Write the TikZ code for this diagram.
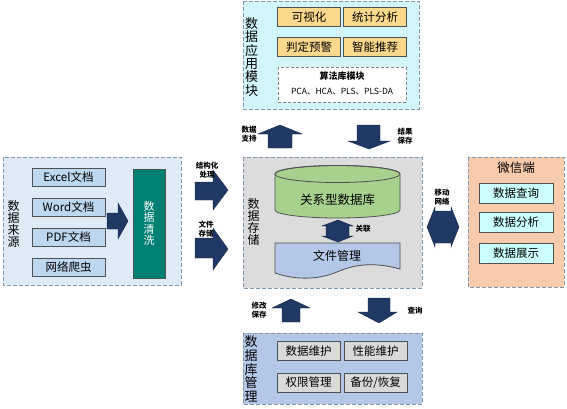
\documentclass[tikz,border=0pt]{standalone}
\usepackage{fontspec}
\setmainfont{Noto Sans CJK SC}
\usetikzlibrary{shapes.geometric, positioning, calc}

\definecolor{navyarr}{RGB}{31,56,100}
\definecolor{dashgray}{RGB}{128,150,170}
\definecolor{itemgray}{RGB}{80,80,80}
\definecolor{appfill}{RGB}{210,245,250}
\definecolor{btnyellow}{RGB}{250,217,140}
\definecolor{storefill}{RGB}{220,220,220}
\definecolor{dbgreen}{RGB}{169,209,142}
\definecolor{docblue}{RGB}{180,199,231}
\definecolor{srcfill}{RGB}{222,234,246}
\definecolor{srcitem}{RGB}{189,215,238}
\definecolor{cleanteal}{RGB}{0,128,115}
\definecolor{wxfill}{RGB}{248,203,173}
\definecolor{wxitem}{RGB}{204,255,255}
\definecolor{mgrfill}{RGB}{180,199,231}
\definecolor{mgritem}{RGB}{217,217,217}

\newcommand{\tightlines}{\lineskiplimit=-20pt\lineskip=0pt}

\begin{document}
\begin{tikzpicture}[x=1pt, y=-1pt,
    modbox/.style={draw=dashgray, dash pattern=on 4pt off 2pt, line width=0.8pt},
    itembox/.style={draw=itemgray, line width=0.9pt, minimum width=#1, minimum height=19pt,
        inner sep=0pt, font=\fontsize{11.5}{12}\selectfont},
    itembox/.default=63pt,
    vtitle/.style={align=center, inner sep=0pt},
    tiny/.style={align=center, inner sep=0pt, font=\bfseries\fontsize{7.5}{8.5}\selectfont\tightlines},
    blockarr/.style={fill=navyarr, draw=navyarr!70!black, line width=0.4pt}]
\useasboundingbox (0,0) rectangle (567,408);

% Application module
\draw[modbox, fill=appfill] (243,1) rectangle (419,109);
\node[vtitle, font=\fontsize{13}{13.3}\selectfont\tightlines] (apptitle) at (251.5,57) {数\\据\\应\\用\\模\\块};
\node[itembox, fill=btnyellow] (vis) at (309,17) {可视化};
\node[itembox, fill=btnyellow] (stat) at (375,17) {统计分析};
\node[itembox, fill=btnyellow] (warn) at (309,47) {判定预警};
\node[itembox, fill=btnyellow] (recom) at (375,47) {智能推荐};
\draw[draw=gray, dash pattern=on 3pt off 2pt, fill=white] (278,67) rectangle (406,102);
\node[inner sep=0pt, font=\bfseries\fontsize{9}{10}\selectfont] (algo) at (342,76) {算法库模块};
\node[inner sep=0pt, font=\fontsize{8.5}{9}\selectfont] (algolist) at (342,92) {PCA、HCA、PLS、PLS-DA};

% Arrows between application and storage
\fill[blockarr] (280,125) -- (302,134) -- (292,134) -- (292,148) -- (268,148) -- (268,134) -- (258,134) -- cycle;
\node[tiny] (support) at (249,134) {数据\\支持};
\fill[blockarr] (357,125) -- (380,125) -- (380,141) -- (390,141) -- (369,149) -- (348,141) -- (357,141) -- cycle;
\node[tiny] (save) at (405,136) {结果\\保存};

% Data sources
\draw[modbox, fill=srcfill] (3,157) rectangle (181,285);
\node[vtitle, font=\fontsize{12}{12.2}\selectfont\tightlines] (srctitle) at (13.5,224) {数\\据\\来\\源};
\node[itembox=73pt, fill=srcitem, minimum height=18pt] (excel) at (68.5,177.5) {Excel文档};
\node[itembox=73pt, fill=srcitem, minimum height=18pt] (word) at (68.5,207.5) {Word文档};
\node[itembox=73pt, fill=srcitem, minimum height=18pt] (pdf) at (68.5,237.5) {PDF文档};
\node[itembox=73pt, fill=srcitem, minimum height=18pt] (crawler) at (68.5,267.5) {网络爬虫};
\fill[blockarr] (107,213) -- (118,213) -- (118,203) -- (128,221) -- (118,239) -- (118,229) -- (107,229) -- cycle;
\node[draw=itemgray, line width=0.9pt, fill=cleanteal, minimum width=32pt, minimum height=109pt,
      inner sep=0pt, align=center, text=white, font=\fontsize{11}{11.5}\selectfont\tightlines] (clean) at (149,223.5) {数\\据\\清\\洗};

% Sources to storage
\fill[blockarr] (195,182) -- (213,182) -- (213,170) -- (228,190) -- (213,210) -- (213,200) -- (195,200) -- cycle;
\node[tiny] (struct) at (207,170) {结构化\\处理};
\fill[blockarr] (195,238) -- (213,238) -- (213,228) -- (228,249) -- (213,270) -- (213,258) -- (195,258) -- cycle;
\node[tiny] (filestore) at (206,229) {文件\\存储};

% Data storage
\draw[modbox, fill=storefill] (243,157) rectangle (422,288);
\node[vtitle, font=\fontsize{12}{12.2}\selectfont\tightlines] (storetitle) at (253.5,222) {数\\据\\存\\储};
\draw[draw=itemgray, line width=0.8pt, fill=dbgreen] (275,174) -- (275,210)
    arc[start angle=180, end angle=360, x radius=62.5pt, y radius=8pt] -- (400,174)
    arc[start angle=0, end angle=180, x radius=62.5pt, y radius=8.5pt] -- cycle;
\draw[draw=itemgray, line width=0.8pt] (337.5,174) ellipse [x radius=62.5pt, y radius=8.5pt];
\node[inner sep=0pt, font=\fontsize{12.5}{13}\selectfont] (rdb) at (337.5,200) {关系型数据库};
\fill[blockarr] (338,220) -- (353,226) -- (349,226) -- (349,236) -- (353,236) -- (338,242)
    -- (322,236) -- (326,236) -- (326,226) -- (322,226) -- cycle;
\node[tiny] (link) at (363,229) {关联};
\draw[draw=itemgray, line width=0.8pt, fill=docblue] (275,243) -- (400,243) -- (400,269)
    .. controls (375,262) and (355,264) .. (337,272)
    .. controls (318,280) and (295,280) .. (275,273) -- cycle;
\node[inner sep=0pt, font=\fontsize{12}{13}\selectfont] (files) at (337,256) {文件管理};

% Mobile network
\fill[blockarr] (427,227) -- (435,207) -- (435,211) -- (451,211) -- (451,207) -- (459,227)
    -- (451,247) -- (451,243) -- (435,243) -- (435,247) -- cycle;
\node[tiny] (mobile) at (442,197) {移动\\网络};

% WeChat client
\draw[modbox, fill=wxfill] (468,157) rectangle (564,287);
\node[inner sep=0pt, font=\fontsize{12.5}{13}\selectfont] (wxtitle) at (516,168) {微信端};
\node[itembox=74pt, fill=wxitem, minimum height=20pt] (query) at (516,193.5) {数据查询};
\node[itembox=74pt, fill=wxitem, minimum height=20pt] (analyse) at (516,222) {数据分析};
\node[itembox=74pt, fill=wxitem, minimum height=20pt] (show) at (516,253) {数据展示};

% Arrows between storage and management
\fill[blockarr] (291,299) -- (310,308) -- (300,308) -- (300,322) -- (282,322) -- (282,308) -- (272,308) -- cycle;
\node[tiny] (modify) at (259,310) {修改\\保存};
\fill[blockarr] (368,298) -- (390,298) -- (390,312) -- (397,312) -- (379,323) -- (358,312) -- (368,312) -- cycle;
\node[tiny] (lookup) at (415,311) {查询};

% Database management
\draw[modbox, fill=mgrfill] (243,333) rectangle (422,404);
\node[vtitle, font=\fontsize{13}{13.6}\selectfont\tightlines] (mgrtitle) at (251,369) {数\\据\\库\\管\\理};
\node[itembox, fill=mgritem] (maint) at (308.5,351) {数据维护};
\node[itembox, fill=mgritem] (perf) at (375.5,351) {性能维护};
\node[itembox, fill=mgritem] (perm) at (308.5,382.5) {权限管理};
\node[itembox, fill=mgritem] (backup) at (375.5,382.5) {备份/恢复};
\end{tikzpicture}
\end{document}
